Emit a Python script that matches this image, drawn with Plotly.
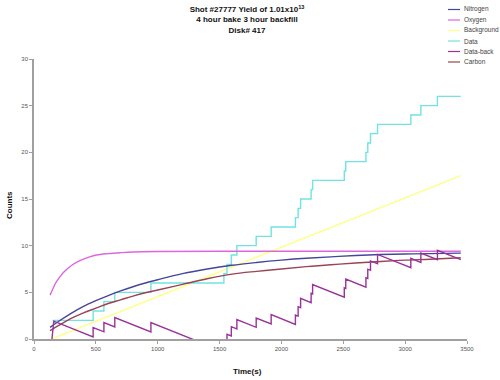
import plotly.graph_objects as go

# ---------------- data ----------------
x_ticks = [0, 500, 1000, 1500, 2000, 2500, 3000, 3500]
y_ticks = [0, 5, 10, 15, 20, 25, 30]

nitrogen_t = [130, 200, 300, 400, 500, 600, 700, 800, 900, 1000, 1200, 1400,
              1600, 1800, 2000, 2200, 2400, 2600, 2800, 3000, 3200, 3450]
nitrogen_v = [1.25, 1.9, 2.75, 3.5, 4.1, 4.65, 5.15, 5.6, 6.0, 6.35, 7.0, 7.5,
              7.9, 8.2, 8.45, 8.65, 8.8, 8.95, 9.05, 9.1, 9.15, 9.2]

carbon_t = [130, 200, 300, 400, 500, 600, 700, 800, 900, 1000, 1200, 1400,
            1600, 1800, 2000, 2200, 2400, 2600, 2800, 3000, 3200, 3450]
carbon_v = [0.9, 1.45, 2.2, 2.8, 3.3, 3.8, 4.2, 4.6, 4.95, 5.25, 5.85, 6.45,
            6.95, 7.25, 7.5, 7.75, 7.95, 8.15, 8.3, 8.45, 8.55, 8.7]

oxygen_t = [130, 150, 175, 200, 236, 300, 371, 450, 505, 600, 700, 800, 1000, 1500, 3450]
oxygen_v = [4.7, 5.3, 6.0, 6.5, 7.1, 7.85, 8.4, 8.8, 9.0, 9.15, 9.25, 9.32, 9.37, 9.4, 9.4]

background_t = [143, 3450]
background_v = [0.0, 17.5]

data_t = [150, 478, 565, 653, 945, 1535, 1560, 1595, 1640, 1796, 1917, 2113, 2135,
          2155, 2240, 2252, 2508, 2520, 2683, 2698, 2720, 2777, 3046, 3127, 3261, 3450]
data_v = [2, 3, 4, 5, 6, 7, 8, 9, 10, 11, 12, 13, 14,
          15, 16, 17, 18, 19, 20, 21, 22, 23, 24, 25, 26, 26]

databack_t = [145, 160, 478, 478, 565, 565, 653, 653, 945, 945, 1535, 1535,
              1560, 1560, 1595, 1595, 1640, 1640, 1796, 1796, 1917, 1917,
              2113, 2113, 2135, 2135, 2155, 2155, 2240, 2240, 2252, 2252,
              2508, 2508, 2520, 2520, 2683, 2683, 2698, 2698, 2720, 2720,
              2777, 2777, 3046, 3046, 3127, 3127, 3261, 3261, 3450]
databack_v = [0.0, 1.91, 0.23, 1.23, 0.77, 1.77, 1.30, 2.30, 0.76, 1.76, -1.37, -0.37,
              -0.50, 0.50, 0.32, 1.32, 1.08, 2.08, 1.25, 2.25, 1.61, 2.61,
              1.57, 2.57, 2.46, 3.46, 3.35, 4.35, 3.90, 4.90, 4.84, 5.84,
              4.48, 5.48, 5.42, 6.42, 5.56, 6.56, 6.48, 7.48, 7.36, 8.36,
              8.06, 9.06, 7.64, 8.64, 8.21, 9.21, 8.50, 9.50, 8.50]

series_names = ["Nitrogen", "Oxygen", "Background", "Data", "Data-back", "Carbon"]

# ---------------- styling ----------------
colors = {
    "Nitrogen": "#45459c",
    "Oxygen": "#dd66dd",
    "Background": "#ffff88",
    "Data": "#72e2e2",
    "Data-back": "#993399",
    "Carbon": "#994455",
}
LW = 1.4
FONT = "Liberation Sans, Arial, sans-serif"

W, H = 500, 380
ML, MR, MT, MB = 34, 33, 59, 41

fig = go.Figure()
fig.add_trace(go.Scatter(x=background_t, y=background_v, mode="lines", name="Background",
                         line=dict(color=colors["Background"], width=LW), showlegend=False))
fig.add_trace(go.Scatter(x=data_t, y=data_v, mode="lines", name="Data", line_shape="hv",
                         line=dict(color=colors["Data"], width=LW), showlegend=False))
fig.add_trace(go.Scatter(x=oxygen_t, y=oxygen_v, mode="lines", name="Oxygen", line_shape="spline",
                         line=dict(color=colors["Oxygen"], width=LW), showlegend=False))
fig.add_trace(go.Scatter(x=carbon_t, y=carbon_v, mode="lines", name="Carbon", line_shape="spline",
                         line=dict(color=colors["Carbon"], width=LW), showlegend=False))
fig.add_trace(go.Scatter(x=nitrogen_t, y=nitrogen_v, mode="lines", name="Nitrogen", line_shape="spline",
                         line=dict(color=colors["Nitrogen"], width=LW), showlegend=False))
fig.add_trace(go.Scatter(x=databack_t, y=databack_v, mode="lines", name="Data-back",
                         line=dict(color=colors["Data-back"], width=LW), showlegend=False))

# manual compact legend (Excel-style) in pixel positions converted to paper coords
pw = W - ML - MR
ph = H - MT - MB
def px_x(px):
    return (px - ML) / pw
def px_y(py):
    return (H - MB - py) / ph

legend_rows = [9.5, 20, 30.5, 41, 51.5, 62]
shapes = []
annotations = []
for name, ry in zip(series_names, legend_rows):
    shapes.append(dict(type="line", xref="paper", yref="paper",
                       x0=px_x(448), x1=px_x(460), y0=px_y(ry), y1=px_y(ry),
                       line=dict(color=colors[name], width=1.2)))
    annotations.append(dict(text=name, xref="paper", yref="paper", x=px_x(462), y=px_y(ry),
                            xanchor="left", yanchor="middle", showarrow=False,
                            font=dict(size=6.5, color="#444444", family=FONT)))

# axis titles
annotations.append(dict(text="<b>Time(s)</b>", xref="paper", yref="paper",
                        x=px_x(247), y=px_y(371), xanchor="center", yanchor="middle",
                        showarrow=False, font=dict(size=8, color="#111111", family=FONT)))
annotations.append(dict(text="<b>Counts</b>", xref="paper", yref="paper",
                        x=px_x(10), y=px_y(205), xanchor="center", yanchor="middle",
                        textangle=-90, showarrow=False,
                        font=dict(size=8, color="#111111", family=FONT)))

fig.update_layout(
    width=W, height=H,
    margin=dict(l=ML, r=MR, t=MT, b=MB),
    paper_bgcolor="white", plot_bgcolor="white",
    showlegend=False,
    title=dict(text="<b>Shot #27777 Yield of 1.01x10<sup>13</sup><br>4 hour bake 3 hour backfill<br>Disk# 417</b>",
               x=247 / W, xanchor="center", xref="container",
               y=1 - 12 / H, yanchor="top", yref="container",
               font=dict(size=8, color="#111111", family=FONT)),
    shapes=shapes,
    annotations=annotations,
    font=dict(family=FONT),
)
fig.update_xaxes(range=[0, 3500], tickvals=x_ticks, ticktext=[str(v) for v in x_ticks],
                 showgrid=False, zeroline=False, showline=True, linecolor="#a0a0a0", linewidth=1.5,
                 ticks="outside", ticklen=3, tickcolor="#a0a0a0", tickwidth=1,
                 tickfont=dict(size=6, color="#555555", family=FONT))
fig.update_yaxes(range=[0, 30], tickvals=y_ticks, ticktext=[str(v) for v in y_ticks],
                 showgrid=False, zeroline=False, showline=True, linecolor="#a0a0a0", linewidth=1.5,
                 ticks="outside", ticklen=3, tickcolor="#a0a0a0", tickwidth=1,
                 tickfont=dict(size=6, color="#555555", family=FONT))

fig.write_html("out.html",
               config={"displayModeBar": False},
               post_script="document.body.style.margin='0px';document.body.style.overflow='hidden';")
